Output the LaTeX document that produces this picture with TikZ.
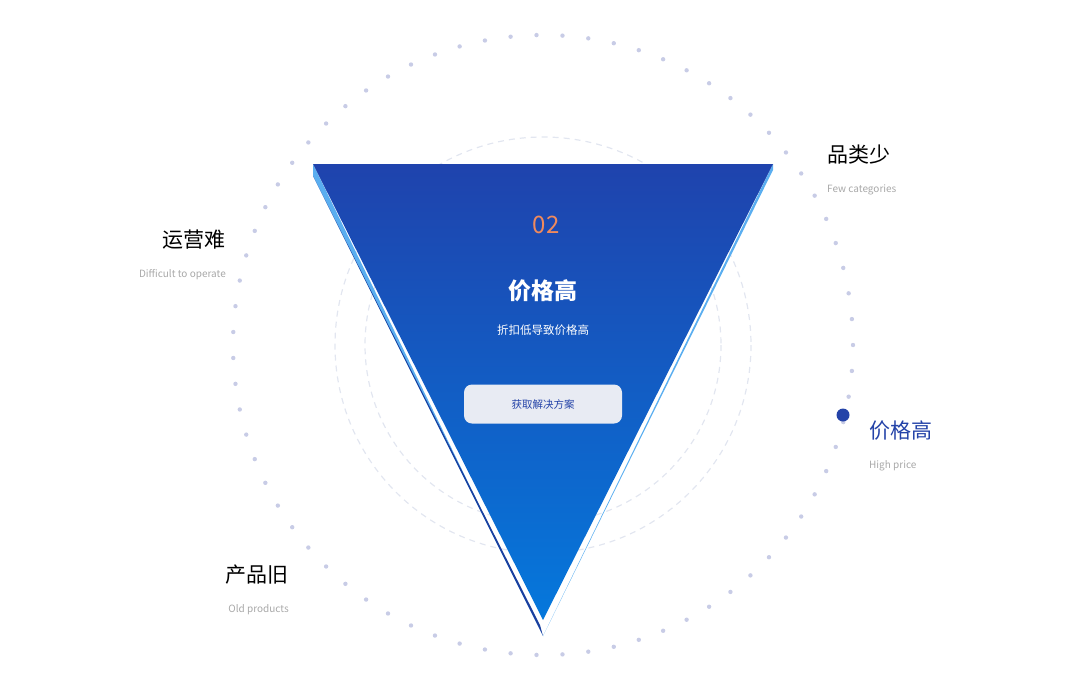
\documentclass[tikz,border=0pt]{standalone}
\usepackage{fontspec}
\setmainfont{Noto Sans CJK SC}
\usetikzlibrary{calc}
\definecolor{dotgray}{HTML}{C8CCE6}
\definecolor{ringgray}{HTML}{E2E6F0}
\definecolor{facetop}{HTML}{1F43AD}
\definecolor{facebot}{HTML}{0578DC}
\definecolor{edgelight}{HTML}{5AAEF0}
\definecolor{edgedark}{HTML}{1A3F9E}
\definecolor{accent}{HTML}{2443A8}
\definecolor{numorange}{HTML}{F08A5D}
\definecolor{subgray}{HTML}{A8A8A8}
\tikzset{title label/.style={font=\fontsize{21}{24}\selectfont,inner sep=0pt},
sub label/.style={font=\fontsize{10}{12}\selectfont,text=subgray,inner sep=0pt},
ring/.style={ringgray,line width=1.2pt,dash pattern=on 6pt off 5pt},
action button/.style={fill=ringgray!80!white,rounded corners=8pt,minimum width=158pt,minimum height=39pt,font=\fontsize{10.5}{12}\selectfont,text=accent}}
\begin{document}
\begin{tikzpicture}[x=1pt,y=-1pt]
\useasboundingbox (0,0) rectangle (1069,689);

%% Coordinates of nodes.
\coordinate (c) at (543,345);
\coordinate (tl) at (313,164);
\coordinate (tr) at (773,164);
\coordinate (ap) at (543,636);

%% rings
\draw [ring] (c) circle (208);
\draw [ring] (c) circle (178);
\foreach \a in {0,4.8,...,359}
  \fill [dotgray] ($(c)+(\a:310)$) circle (2.2);

%% triangle
\fill [edgelight] (tl) -- (313,176) -- (ap) -- cycle;
\fill [edgedark] (313,176) -- (540,625) -- (ap) -- cycle;
\fill [edgelight] (tr) -- (773,170) -- (ap) -- cycle;
\shade [top color=facetop,bottom color=facebot] (tl) -- (tr) -- (543,620) -- cycle;

%% texts on triangle
\node (num) at (546,225) {\fontsize{24}{26}\selectfont\itshape\color{numorange}02};
\node (head) at (543,291) {\fontsize{23}{26}\selectfont\bfseries\color{white}价格高};
\node (desc) at (543,330) {\fontsize{11.5}{13}\selectfont\color{white}折扣低导致价格高};
\node [action button] (btn) at (543,404) {获取解决方案};

%% side labels
\node [title label,anchor=west] (few) at (827,155) {品类少};
\node [sub label,anchor=west] (fewsub) at (827,190) {Few categories};
\fill [accent] (843,415) circle (6.5);
\node [title label,anchor=west,text=accent] (high) at (869,431) {价格高};
\node [sub label,anchor=west] (highsub) at (869,466) {High price};
\node [title label,anchor=east] (ops) at (226,240) {运营难};
\node [sub label,anchor=east] (opssub) at (226,275) {Difficult to operate};
\node [title label,anchor=east] (old) at (289,575) {产品旧};
\node [sub label,anchor=east] (oldsub) at (289,610) {Old products};

\end{tikzpicture}
\end{document}
